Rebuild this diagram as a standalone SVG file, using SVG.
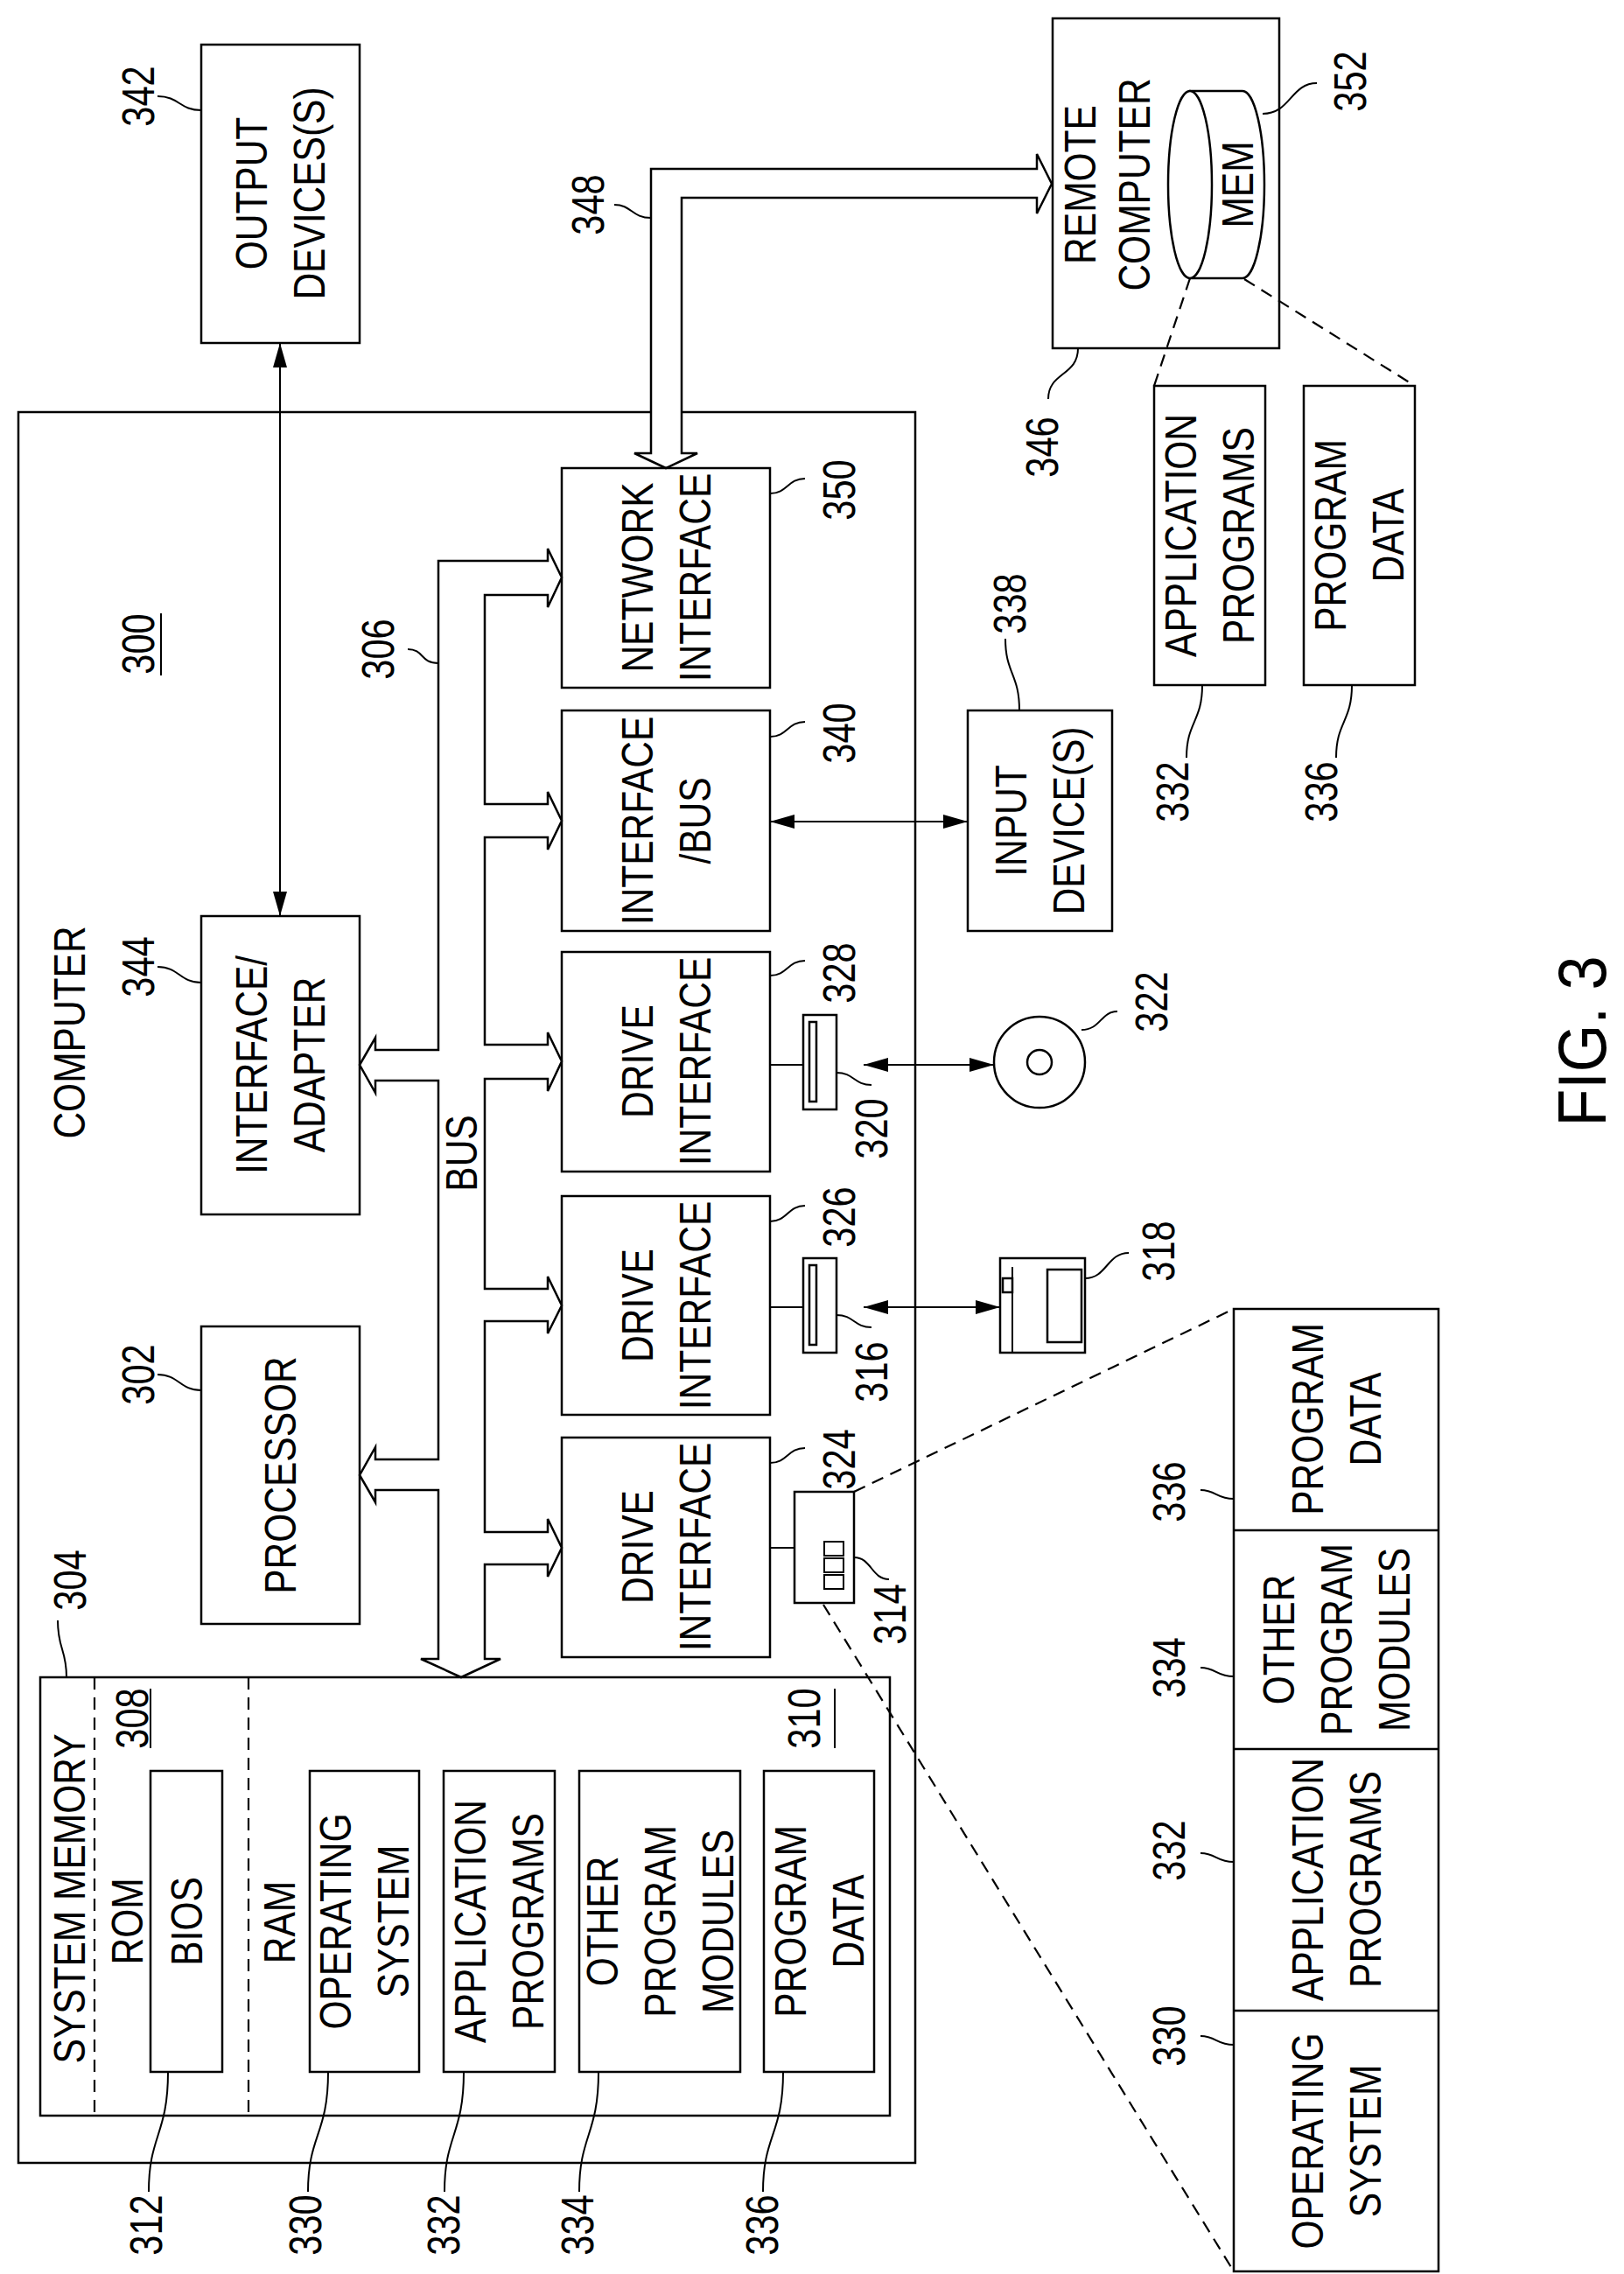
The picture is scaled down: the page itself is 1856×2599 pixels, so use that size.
<svg xmlns="http://www.w3.org/2000/svg" width="1856" height="2599" viewBox="0 0 1856 2599">
<style>
.b{fill:#fff;stroke:#000;stroke-width:2.5}
.n{fill:none;stroke:#000;stroke-width:2.5}
.l{fill:none;stroke:#000;stroke-width:2}
.d{fill:none;stroke:#000;stroke-width:2.2;stroke-dasharray:14 9}
.t{font-family:"Liberation Sans",Arial,sans-serif;font-size:50px;text-anchor:middle;fill:#000}
.m{font-family:"Liberation Sans",Arial,sans-serif;font-size:52px;text-anchor:middle;fill:#000}
.f{font-family:"Liberation Sans",Arial,sans-serif;font-size:78px;text-anchor:middle;fill:#000}
</style>
<defs>
<marker id="ah" viewBox="0 0 28 16" refX="28" refY="8" markerWidth="28" markerHeight="16" markerUnits="userSpaceOnUse" orient="auto-start-reverse"><path d="M0,0 L28,8 L0,16 Z" fill="#000"/></marker>
</defs>
<rect width="1856" height="2599" fill="#fff"/>

<g id="computer">
<rect class="b" x="21" y="471" width="1025" height="2001"/>
<text class="t" transform="translate(97,1180) rotate(-90) scale(0.85,1)">COMPUTER</text>
<text class="m" transform="translate(176,736) rotate(-90) scale(0.8,1)">300</text>
<line class="l" x1="184" y1="701" x2="184" y2="772"/>
</g>

<g id="output-devices">
<rect class="b" x="230" y="51" width="181" height="341"/>
<text class="t" transform="translate(305,221) rotate(-90) scale(0.85,1)"><tspan x="0" dy="0">OUTPUT</tspan><tspan x="0" dy="66">DEVICES(S)</tspan></text>
</g>
<g id="interface-adapter">
<rect class="b" x="230" y="1047" width="181" height="341"/>
<text class="t" transform="translate(305,1217) rotate(-90) scale(0.85,1)"><tspan x="0" dy="0">INTERFACE/</tspan><tspan x="0" dy="66">ADAPTER</tspan></text>
</g>
<g id="processor">
<rect class="b" x="230" y="1516" width="181" height="340"/>
<text class="t" transform="translate(338,1686) rotate(-90) scale(0.85,1)">PROCESSOR</text>
</g>

<g id="network-interface">
<rect class="b" x="642" y="535" width="238" height="251"/>
<text class="t" transform="translate(746,660) rotate(-90) scale(0.85,1)"><tspan x="0" dy="0">NETWORK</tspan><tspan x="0" dy="66">INTERFACE</tspan></text>
</g>
<g id="interface-bus">
<rect class="b" x="642" y="812" width="238" height="252"/>
<text class="t" transform="translate(746,938) rotate(-90) scale(0.85,1)"><tspan x="0" dy="0">INTERFACE</tspan><tspan x="0" dy="66">/BUS</tspan></text>
</g>
<g id="drive-328">
<rect class="b" x="642" y="1088" width="238" height="251"/>
<text class="t" transform="translate(746,1213) rotate(-90) scale(0.85,1)"><tspan x="0" dy="0">DRIVE</tspan><tspan x="0" dy="66">INTERFACE</tspan></text>
</g>
<g id="drive-326">
<rect class="b" x="642" y="1367" width="238" height="250"/>
<text class="t" transform="translate(746,1492) rotate(-90) scale(0.85,1)"><tspan x="0" dy="0">DRIVE</tspan><tspan x="0" dy="66">INTERFACE</tspan></text>
</g>
<g id="drive-324">
<rect class="b" x="642" y="1643" width="238" height="251"/>
<text class="t" transform="translate(746,1768) rotate(-90) scale(0.85,1)"><tspan x="0" dy="0">DRIVE</tspan><tspan x="0" dy="66">INTERFACE</tspan></text>
</g>

<g id="system-memory">
<rect class="b" x="46" y="1917" width="971" height="501"/>
<line class="d" x1="108" y1="1917" x2="108" y2="2418"/>
<line class="d" x1="284" y1="1917" x2="284" y2="2418"/>
<text class="t" transform="translate(97,2170) rotate(-90) scale(0.85,1)">SYSTEM MEMORY</text>
<text class="t" transform="translate(163,2196) rotate(-90) scale(0.85,1)">ROM</text>
<text class="t" transform="translate(337,2197) rotate(-90) scale(0.85,1)">RAM</text>
<text class="m" transform="translate(169,1964) rotate(-90) scale(0.8,1)">308</text>
<line class="l" x1="172" y1="1930" x2="172" y2="1998"/>
<text class="m" transform="translate(937,1964) rotate(-90) scale(0.8,1)">310</text>
<line class="l" x1="954" y1="1930" x2="954" y2="1998"/>
</g>
<g id="bios"><rect class="b" x="172" y="2024" width="82" height="344"/>
<text class="t" transform="translate(231,2196) rotate(-90) scale(0.85,1)">BIOS</text></g>
<g id="os-ram"><rect class="b" x="354" y="2024" width="125" height="344"/>
<text class="t" transform="translate(401,2196) rotate(-90) scale(0.85,1)"><tspan x="0" dy="0">OPERATING</tspan><tspan x="0" dy="66">SYSTEM</tspan></text></g>
<g id="apps-ram"><rect class="b" x="507" y="2024" width="127" height="344"/>
<text class="t" transform="translate(555,2196) rotate(-90) scale(0.85,1)"><tspan x="0" dy="0">APPLICATION</tspan><tspan x="0" dy="66">PROGRAMS</tspan></text></g>
<g id="modules-ram"><rect class="b" x="662" y="2024" width="184" height="344"/>
<text class="t" transform="translate(706,2196) rotate(-90) scale(0.85,1)"><tspan x="0" dy="0">OTHER</tspan><tspan x="0" dy="66">PROGRAM</tspan><tspan x="0" dy="66">MODULES</tspan></text></g>
<g id="data-ram"><rect class="b" x="873" y="2024" width="126" height="344"/>
<text class="t" transform="translate(921,2196) rotate(-90) scale(0.85,1)"><tspan x="0" dy="0">PROGRAM</tspan><tspan x="0" dy="66">DATA</tspan></text></g>

<g id="input-devices">
<rect class="b" x="1106" y="812" width="165" height="252"/>
<text class="t" transform="translate(1173,938) rotate(-90) scale(0.85,1)"><tspan x="0" dy="0">INPUT</tspan><tspan x="0" dy="66">DEVICE(S)</tspan></text>
</g>

<g id="remote-computer">
<rect class="b" x="1203" y="21" width="259" height="377"/>
<text class="t" transform="translate(1252,211) rotate(-90) scale(0.85,1)"><tspan x="0" dy="0">REMOTE</tspan><tspan x="0" dy="62">COMPUTER</tspan></text>
</g>
<g id="mem">
<path class="b" d="M1360,104 L1420,104 A25,107 0 0 1 1420,318 L1360,318 Z"/>
<ellipse class="b" cx="1360" cy="211" rx="25" ry="107"/>
<text class="t" transform="translate(1432,211) rotate(-90) scale(0.85,1)">MEM</text>
</g>
<g id="apps-remote"><rect class="b" x="1319" y="441" width="127" height="342"/>
<text class="t" transform="translate(1367,612) rotate(-90) scale(0.85,1)"><tspan x="0" dy="0">APPLICATION</tspan><tspan x="0" dy="66">PROGRAMS</tspan></text></g>
<g id="data-remote"><rect class="b" x="1490" y="441" width="127" height="342"/>
<text class="t" transform="translate(1538,612) rotate(-90) scale(0.85,1)"><tspan x="0" dy="0">PROGRAM</tspan><tspan x="0" dy="66">DATA</tspan></text></g>

<g id="dev-320">
<rect class="b" x="918" y="1160" width="38" height="108"/>
<rect class="b" x="925" y="1168" width="8" height="91"/>
</g>
<g id="disc-322">
<circle class="b" cx="1188" cy="1214" r="52"/>
<circle class="b" cx="1188" cy="1214" r="14"/>
</g>
<g id="dev-316">
<rect class="b" x="918" y="1438" width="38" height="108"/>
<rect class="b" x="925" y="1446" width="8" height="91"/>
</g>
<g id="floppy-318">
<rect class="b" x="1143" y="1438" width="97" height="108"/>
<line class="l" x1="1157" y1="1448" x2="1157" y2="1546"/>
<rect class="b" x="1146" y="1461" width="11" height="16"/>
<rect class="b" x="1197" y="1451" width="39" height="83"/>
</g>
<g id="dev-314">
<rect class="b" x="908" y="1705" width="68" height="127"/>
<rect class="l" x="942" y="1762" width="22" height="16"/>
<rect class="l" x="942" y="1781" width="22" height="16"/>
<rect class="l" x="942" y="1800" width="22" height="16"/>
</g>

<g id="expanded-314">
<rect class="b" x="1410" y="1496" width="234" height="1100"/>
<line class="n" x1="1410" y1="1749" x2="1644" y2="1749"/>
<line class="n" x1="1410" y1="1999" x2="1644" y2="1999"/>
<line class="n" x1="1410" y1="2298" x2="1644" y2="2298"/>
<text class="t" transform="translate(1512,1622) rotate(-90) scale(0.85,1)"><tspan x="0" dy="0">PROGRAM</tspan><tspan x="0" dy="66">DATA</tspan></text>
<text class="t" transform="translate(1479,1874) rotate(-90) scale(0.85,1)"><tspan x="0" dy="0">OTHER</tspan><tspan x="0" dy="66">PROGRAM</tspan><tspan x="0" dy="66">MODULES</tspan></text>
<text class="t" transform="translate(1512,2148) rotate(-90) scale(0.85,1)"><tspan x="0" dy="0">APPLICATION</tspan><tspan x="0" dy="66">PROGRAMS</tspan></text>
<text class="t" transform="translate(1512,2447) rotate(-90) scale(0.85,1)"><tspan x="0" dy="0">OPERATING</tspan><tspan x="0" dy="66">SYSTEM</tspan></text>
</g>

<g id="connectors">
<path class="b" d="M626,641 L501,641 L501,1200 L429,1200 L429,1186 L411,1217 L429,1249 L429,1235 L501,1235 L501,1668 L429,1668 L429,1654 L411,1686 L429,1717 L429,1703 L501,1703 L501,1896 L481,1896 L527,1917 L572,1896 L554,1896 L554,1788 L626,1788 L626,1802 L642,1769 L626,1736 L626,1751 L554,1751 L554,1510 L626,1510 L626,1524 L642,1492 L626,1459 L626,1473 L554,1473 L554,1233 L626,1233 L626,1247 L642,1213 L626,1180 L626,1194 L554,1194 L554,957 L626,957 L626,971 L642,938 L626,905 L626,919 L554,919 L554,680 L626,680 L626,694 L642,660 L626,627 Z"/>
<text class="t" transform="translate(545,1318) rotate(-90) scale(0.85,1)">BUS</text>
<path class="b" d="M744,518 L744,193 L1185,193 L1185,176 L1202,210 L1185,244 L1185,226 L779,226 L779,518 L797,518 L761,535 L725,518 Z"/>
<line class="l" x1="320" y1="392" x2="320" y2="1047" marker-start="url(#ah)" marker-end="url(#ah)"/>
<line class="l" x1="880" y1="939" x2="1106" y2="939" marker-start="url(#ah)" marker-end="url(#ah)"/>
<line class="l" x1="987" y1="1217" x2="1136" y2="1217" marker-start="url(#ah)" marker-end="url(#ah)"/>
<line class="l" x1="987" y1="1494" x2="1143" y2="1494" marker-start="url(#ah)" marker-end="url(#ah)"/>
<line class="l" x1="880" y1="1217" x2="918" y2="1217"/>
<line class="l" x1="880" y1="1494" x2="918" y2="1494"/>
<line class="l" x1="880" y1="1769" x2="908" y2="1769"/>
<line class="d" x1="1360" y1="318" x2="1319" y2="441"/>
<line class="d" x1="1422" y1="319" x2="1617" y2="441"/>
<line class="d" x1="976" y1="1705" x2="1410" y2="1496"/>
<line class="d" x1="941" y1="1834" x2="1410" y2="2596"/>
<path class="l" d="M230,126 C205,126 205,110 180,110"/>
<path class="l" d="M230,1123 C205,1123 205,1105 180,1105"/>
<path class="l" d="M230,1589 C205,1589 205,1571 180,1571"/>
<path class="l" d="M76,1917 C76,1885 66,1885 66,1852"/>
<path class="l" d="M501,758 C480,758 485,742 466,742"/>
<path class="l" d="M744,249 C722,249 722,234 702,234"/>
<path class="l" d="M880,564 C900,564 900,547 920,547"/>
<path class="l" d="M880,842 C900,842 900,825 920,825"/>
<path class="l" d="M880,1115 C900,1115 900,1098 920,1098"/>
<path class="l" d="M880,1396 C900,1396 900,1378 920,1378"/>
<path class="l" d="M880,1672 C900,1672 900,1655 920,1655"/>
<path class="l" d="M1165,812 C1165,770 1149,770 1149,730"/>
<path class="l" d="M1232,398 C1232,430 1198,425 1198,456"/>
<path class="l" d="M1443,130 C1475,130 1475,95 1505,95"/>
<path class="l" d="M1374,783 C1374,825 1356,825 1356,866"/>
<path class="l" d="M1545,783 C1545,825 1527,825 1527,866"/>
<path class="l" d="M1236,1177 C1258,1177 1258,1156 1277,1156"/>
<path class="l" d="M956,1226 C976,1226 976,1240 996,1240"/>
<path class="l" d="M956,1503 C976,1503 976,1517 996,1517"/>
<path class="l" d="M1240,1461 C1265,1461 1265,1432 1290,1432"/>
<path class="l" d="M976,1780 C996,1780 996,1805 1016,1805"/>
<path class="l" d="M1410,1713 C1390,1713 1390,1703 1372,1703"/>
<path class="l" d="M1410,1916 C1390,1916 1390,1906 1372,1906"/>
<path class="l" d="M1410,2128 C1390,2128 1390,2118 1372,2118"/>
<path class="l" d="M1410,2337 C1390,2337 1390,2327 1372,2327"/>
<path class="l" d="M192,2368 C192,2440 170,2440 170,2505"/>
<path class="l" d="M375,2368 C375,2440 352,2440 352,2505"/>
<path class="l" d="M530,2368 C530,2440 508,2440 508,2505"/>
<path class="l" d="M684,2368 C684,2440 662,2440 662,2505"/>
<path class="l" d="M895,2368 C895,2440 872,2440 872,2505"/>
</g>

<g id="labels">
<text class="m" transform="translate(176,110) rotate(-90) scale(0.8,1)">342</text>
<text class="m" transform="translate(176,1105) rotate(-90) scale(0.8,1)">344</text>
<text class="m" transform="translate(176,1571) rotate(-90) scale(0.8,1)">302</text>
<text class="m" transform="translate(98,1806) rotate(-90) scale(0.8,1)">304</text>
<text class="m" transform="translate(450,742) rotate(-90) scale(0.8,1)">306</text>
<text class="m" transform="translate(690,234) rotate(-90) scale(0.8,1)">348</text>
<text class="m" transform="translate(977,560) rotate(-90) scale(0.8,1)">350</text>
<text class="m" transform="translate(977,838) rotate(-90) scale(0.8,1)">340</text>
<text class="m" transform="translate(977,1112) rotate(-90) scale(0.8,1)">328</text>
<text class="m" transform="translate(977,1391) rotate(-90) scale(0.8,1)">326</text>
<text class="m" transform="translate(977,1668) rotate(-90) scale(0.8,1)">324</text>
<text class="m" transform="translate(1172,690) rotate(-90) scale(0.8,1)">338</text>
<text class="m" transform="translate(1209,511) rotate(-90) scale(0.8,1)">346</text>
<text class="m" transform="translate(1561,93) rotate(-90) scale(0.8,1)">352</text>
<text class="m" transform="translate(1358,905) rotate(-90) scale(0.8,1)">332</text>
<text class="m" transform="translate(1528,905) rotate(-90) scale(0.8,1)">336</text>
<text class="m" transform="translate(1334,1145) rotate(-90) scale(0.8,1)">322</text>
<text class="m" transform="translate(1014,1290) rotate(-90) scale(0.8,1)">320</text>
<text class="m" transform="translate(1014,1568) rotate(-90) scale(0.8,1)">316</text>
<text class="m" transform="translate(1342,1430) rotate(-90) scale(0.8,1)">318</text>
<text class="m" transform="translate(1035,1845) rotate(-90) scale(0.8,1)">314</text>
<text class="m" transform="translate(1354,1705) rotate(-90) scale(0.8,1)">336</text>
<text class="m" transform="translate(1354,1906) rotate(-90) scale(0.8,1)">334</text>
<text class="m" transform="translate(1354,2115) rotate(-90) scale(0.8,1)">332</text>
<text class="m" transform="translate(1354,2327) rotate(-90) scale(0.8,1)">330</text>
<text class="m" transform="translate(185,2543) rotate(-90) scale(0.8,1)">312</text>
<text class="m" transform="translate(367,2543) rotate(-90) scale(0.8,1)">330</text>
<text class="m" transform="translate(525,2543) rotate(-90) scale(0.8,1)">332</text>
<text class="m" transform="translate(678,2543) rotate(-90) scale(0.8,1)">334</text>
<text class="m" transform="translate(889,2543) rotate(-90) scale(0.8,1)">336</text>
<text class="f" transform="translate(1835,1190) rotate(-90) scale(0.9,1)">FIG. 3</text>
</g>
</svg>
